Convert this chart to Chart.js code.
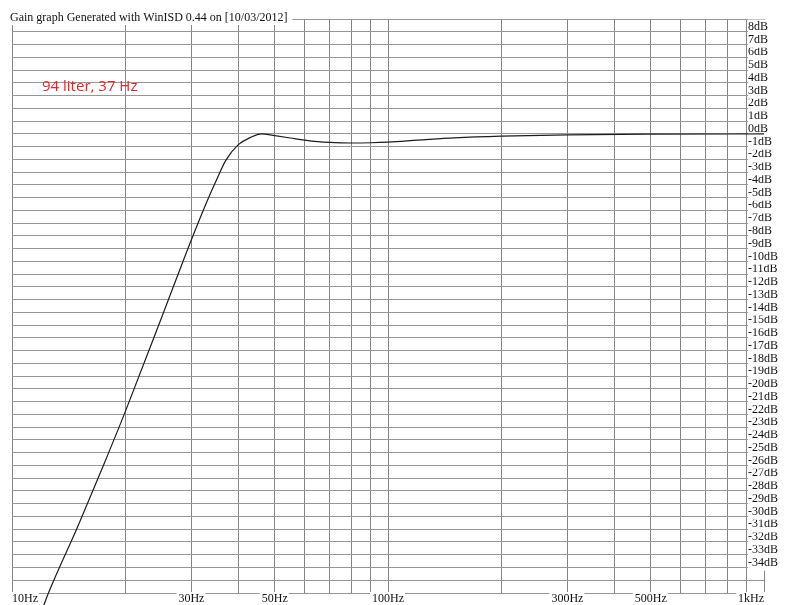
<!DOCTYPE html>
<html><head><meta charset="utf-8">
<script src="https://cdn.jsdelivr.net/npm/chart.js@4"></script>
<style>
html,body{margin:0;padding:0;background:#fff;}
#wrap{position:relative;width:790px;height:605px;}
#note{position:absolute;left:42px;top:76px;font:15px "Open Sans",sans-serif;color:#e2282a;line-height:18px;white-space:nowrap;}
</style></head><body>
<div id="wrap"><canvas id="c" width="790" height="605"></canvas><div id="note">94 liter, 37 Hz</div></div>
<script>
const titleText = 'Gain graph Generated with WinISD 0.44 on [10/03/2012]';
const freqHz = [12, 12.5, 15, 17.5, 20, 25, 30, 33, 35, 37, 40, 43, 46, 50, 55, 60, 65, 70, 80, 90, 100, 120, 150, 200, 300, 500, 1000];
const gainDb = [-37.4, -36.0, -30.7, -26.0, -21.8, -14.4, -8.3, -5.3, -3.6, -2.1, -0.85, -0.3, 0.0, -0.15, -0.33, -0.5, -0.62, -0.68, -0.72, -0.7, -0.65, -0.5, -0.32, -0.18, -0.08, -0.03, -0.01];
const freqTicks = [10, 20, 30, 40, 50, 60, 70, 80, 90, 100, 200, 300, 400, 500, 600, 700, 800, 900, 1000];
const freqTickLabels = ['10Hz', '', '30Hz', '', '50Hz', '', '', '', '', '100Hz', '', '300Hz', '', '500Hz', '', '', '', '', '1kHz'];
const gainTickLabels = ['8dB', '7dB', '6dB', '5dB', '4dB', '3dB', '2dB', '1dB', '0dB', '-1dB', '-2dB', '-3dB', '-4dB', '-5dB', '-6dB', '-7dB', '-8dB', '-9dB', '-10dB', '-11dB', '-12dB', '-13dB', '-14dB', '-15dB', '-16dB', '-17dB', '-18dB', '-19dB', '-20dB', '-21dB', '-22dB', '-23dB', '-24dB', '-25dB', '-26dB', '-27dB', '-28dB', '-29dB', '-30dB', '-31dB', '-32dB', '-33dB', '-34dB'];

const serif = '"Liberation Serif", "Times New Roman", serif';

// white paper behind the title, then the title again on top of the frame line
const titleBack = {
  id: 'titleBack',
  beforeDatasetsDraw(chart) {
    const t = chart.titleBlock;
    if (!t) return;
    const ctx = chart.ctx;
    ctx.save();
    ctx.font = '12px ' + serif;
    const w = ctx.measureText(titleText).width;
    ctx.fillStyle = '#fff';
    ctx.fillRect(t.left - 3, 10, w + 6, 15);
    ctx.translate(-2, 0);
    t.draw(chart.chartArea);
    ctx.restore();
  }
};

const noLabelClip = s => { s._computeLabelArea = () => undefined; };

new Chart(document.getElementById('c'), {
  type: 'line',
  data: {
    datasets: [{
      data: freqHz.map((f, i) => ({ x: f, y: gainDb[i] })),
      borderColor: '#1c1c1c',
      borderWidth: 1.2,
      pointRadius: 0,
      fill: false,
      cubicInterpolationMode: 'monotone',
      clip: false
    }]
  },
  options: {
    responsive: false,
    animation: false,
    devicePixelRatio: 1,
    layout: { padding: { left: 12, right: 0, top: 0, bottom: 0 } },
    plugins: {
      legend: { display: false },
      tooltip: { enabled: false },
      title: {
        display: true,
        text: titleText,
        align: 'start',
        color: '#111',
        font: { family: serif, size: 12, weight: 'normal' },
        padding: { top: 11, bottom: -6.4 }
      }
    },
    scales: {
      x: {
        type: 'logarithmic',
        min: 10,
        max: 1000,
        position: 'bottom',
        afterBuildTicks: s => { s.ticks = freqTicks.map(v => ({ value: v })); },
        afterFit: s => { s.height = 12; noLabelClip(s); },
        grid: { color: '#858585', lineWidth: 1, drawTicks: false },
        border: { display: false },
        ticks: {
          autoSkip: false, maxRotation: 0, minRotation: 0, padding: -1, align: 'inner',
          color: '#111',
          font: { family: serif, size: 12 },
          callback: (v, i) => freqTickLabels[i] || '',
          showLabelBackdrop: c => !!freqTickLabels[c.index],
          backdropColor: '#fff',
          backdropPadding: { top: 0, bottom: 0, left: 2, right: 1 }
        }
      },
      y: {
        type: 'linear',
        position: 'right',
        min: -36,
        max: 9,
        afterFit: s => { s.width = 26; noLabelClip(s); },
        grid: { color: '#969696', lineWidth: 1, drawTicks: false },
        border: { display: false },
        ticks: {
          stepSize: 1, autoSkip: false, padding: -16, labelOffset: -5, crossAlign: 'near',
          color: '#111',
          font: { family: serif, size: 12 },
          callback: v => { const s = v + 'dB'; return gainTickLabels.includes(s) ? s : ''; },
          showLabelBackdrop: c => c.tick ? gainTickLabels.includes(c.tick.value + 'dB') : false,
          backdropColor: '#fff',
          backdropPadding: { top: 0, bottom: 1, left: 0, right: 1 }
        }
      }
    }
  },
  plugins: [titleBack]
});
</script>
</body></html>
